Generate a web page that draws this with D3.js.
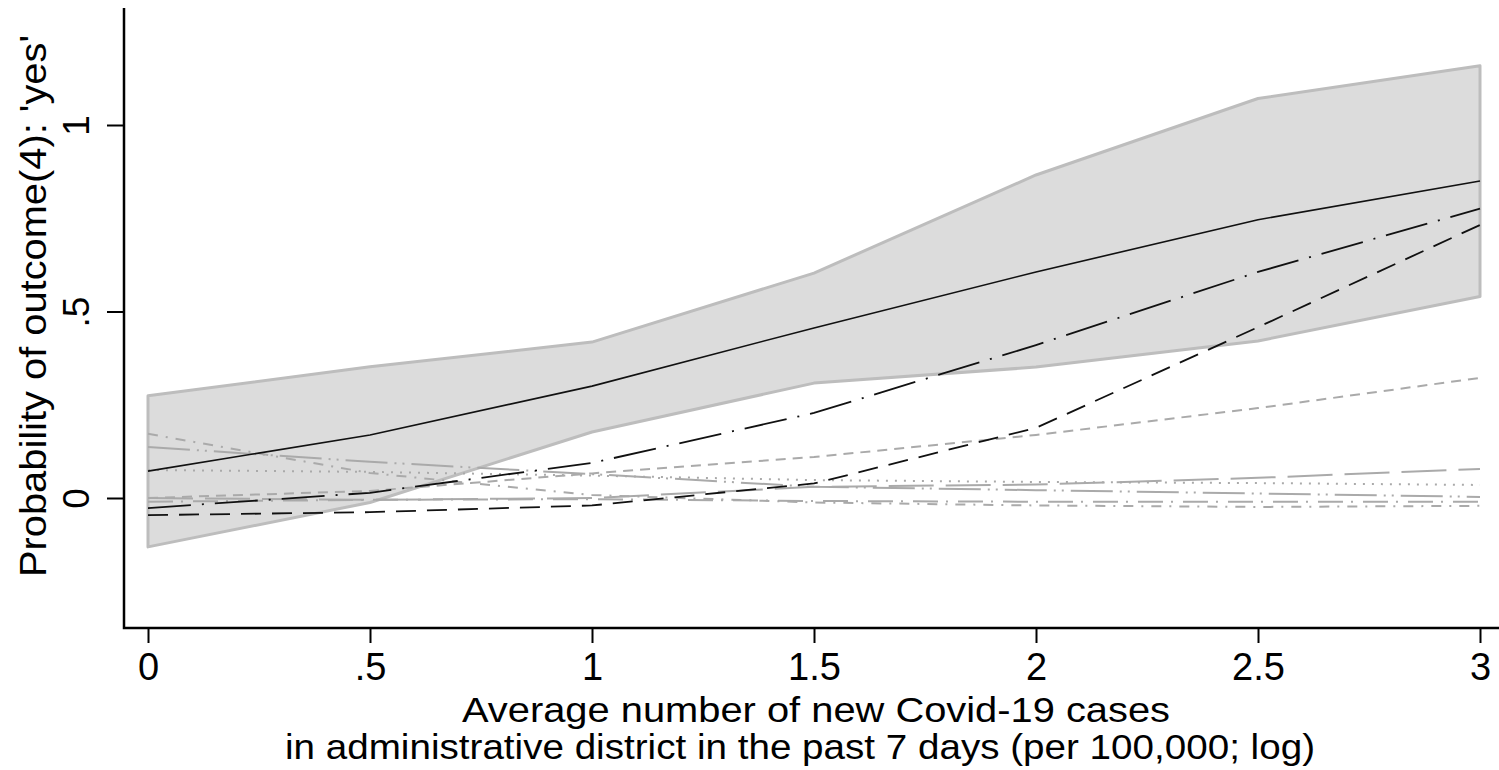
<!DOCTYPE html>
<html>
<head>
<meta charset="utf-8">
<script src="https://cdn.jsdelivr.net/npm/d3@7"></script>
<style>
  body { margin: 0; background: #fff; }
  svg { display: block; font-family: "Liberation Sans", Arial, sans-serif; }
</style>
</head>
<body>
<div id="chart"></div>
<script>
// x = log cases
const xs = [0, 0.5, 1, 1.5, 2, 2.5, 3];
const xTicks = [0, 0.5, 1, 1.5, 2, 2.5, 3];
const yTicks = [0, 0.5, 1];

const ciUpper = [0.274, 0.352, 0.418, 0.603, 0.866, 1.071, 1.159];
const ciLower = [-0.131, -0.012, 0.177, 0.308, 0.351, 0.421, 0.540];

const meanLine = [0.072, 0.169, 0.300, 0.456, 0.606, 0.746, 0.850];
const blackDashDot = [-0.027, 0.014, 0.094, 0.228, 0.410, 0.606, 0.776];
const blackDash = [-0.046, -0.038, -0.020, 0.039, 0.188, 0.458, 0.732];

const grayDash = [0.000, 0.019, 0.066, 0.110, 0.169, 0.241, 0.322];
const grayDot = [0.075, 0.070, 0.060, 0.048, 0.043, 0.040, 0.035];
const grayLongDash = [0.000, -0.005, 0.000, 0.030, 0.036, 0.054, 0.078];
const grayLongDashDotDot = [0.137, 0.097, 0.064, 0.030, 0.021, 0.012, 0.003];
const grayLongDashDot = [-0.010, -0.005, -0.003, -0.008, -0.010, -0.010, -0.010];
const grayDashDot = [0.172, 0.067, 0.008, -0.012, -0.020, -0.024, -0.021];

const xTitle = ["Average number of new Covid-19 cases",
                "in administrative district in the past 7 days (per 100,000; log)"];
const xTitleWidths = [708, 1030];
const xTitleCenters = [816, 800];
const yTitle = "Probability of outcome(4): 'yes'";

const width = 1499, height = 770;
const frame = {left: 124, right: 1499, top: 8, bottom: 628};

const x = d3.scaleLinear().domain([0, 3]).range([148, 1480]);
const y = d3.scaleLinear().domain([0, 1]).range([498, 125]);

const svg = d3.select("#chart").append("svg")
    .attr("width", width)
    .attr("height", height);

// confidence band
const band = xs.map((v, i) => [x(v), y(ciUpper[i])])
    .concat(xs.map((v, i) => [x(v), y(ciLower[i])]).reverse());

svg.append("path")
    .attr("d", "M" + band.join("L") + "Z")
    .attr("fill", "#dcdcdc")
    .attr("stroke", "#bdbdbd")
    .attr("stroke-width", 3)
    .attr("stroke-linejoin", "round");

const line = d3.line()
    .x((d, i) => x(xs[i]))
    .y(d => y(d));

const series = [
    {vals: grayLongDashDot, color: "#aaaaaa", dash: "25,8,2,10", w: 2},
    {vals: grayDashDot, color: "#aaaaaa", dash: "10,8,2,8", w: 2},
    {vals: grayLongDashDotDot, color: "#aaaaaa", dash: "42,7,2,6,2,7", w: 2},
    {vals: grayLongDash, color: "#aaaaaa", dash: "45,12", w: 2},
    {vals: grayDot, color: "#aaaaaa", dash: "2,7", w: 2},
    {vals: grayDash, color: "#aaaaaa", dash: "10,7", w: 2},
    {vals: blackDash, color: "#111", dash: "20,11", w: 1.8},
    {vals: blackDashDot, color: "#111", dash: "43,11,2,11", w: 1.8},
    {vals: meanLine, color: "#111", dash: null, w: 1.6}
];

svg.selectAll(".series")
    .data(series)
    .enter().append("path")
    .attr("class", "series")
    .attr("d", d => line(d.vals))
    .attr("fill", "none")
    .attr("stroke", d => d.color)
    .attr("stroke-width", d => d.w)
    .attr("stroke-dasharray", d => d.dash);

const fmt = v => String(v).replace(/^0\./, ".");

// x axis
const gx = svg.append("g")
    .attr("transform", "translate(0," + frame.bottom + ")")
    .call(d3.axisBottom(x).tickValues(xTicks).tickSize(15).tickFormat(fmt));
gx.select(".domain").remove();
gx.selectAll(".tick line").attr("stroke", "#000").attr("stroke-width", 2);
gx.selectAll(".tick text")
    .attr("y", 52).attr("dy", null)
    .attr("fill", "#000")
    .style("font-size", "38px")
    .style("font-family", "Liberation Sans, Arial, sans-serif");

// y axis
const gy = svg.append("g")
    .attr("transform", "translate(" + frame.left + ",0)")
    .call(d3.axisLeft(y).tickValues(yTicks).tickSize(17).tickFormat(fmt));
gy.select(".domain").remove();
gy.selectAll(".tick line").attr("stroke", "#000").attr("stroke-width", 2);
gy.selectAll(".tick text")
    .attr("x", null).attr("dy", null)
    .attr("transform", "translate(-35,0) rotate(-90)")
    .attr("text-anchor", "middle")
    .attr("fill", "#000")
    .style("font-size", "37px")
    .style("font-family", "Liberation Sans, Arial, sans-serif");

// axis lines
svg.append("path")
    .attr("d", `M${frame.left},${frame.top}V${frame.bottom}H${frame.right}`)
    .attr("fill", "none")
    .attr("stroke", "#000")
    .attr("stroke-width", 2.5);

// titles
svg.selectAll(".xtitle")
    .data(xTitle)
    .enter().append("text")
    .attr("class", "xtitle")
    .attr("x", (d, i) => xTitleCenters[i])
    .attr("y", (d, i) => 722 + i * 37)
    .attr("text-anchor", "middle")
    .attr("textLength", (d, i) => xTitleWidths[i])
    .attr("lengthAdjust", "spacingAndGlyphs")
    .style("font-size", "35px")
    .text(d => d);

svg.append("text")
    .attr("transform", "translate(46,306) rotate(-90)")
    .attr("text-anchor", "middle")
    .attr("textLength", 542)
    .attr("lengthAdjust", "spacingAndGlyphs")
    .style("font-size", "37px")
    .text(yTitle);
</script>
</body>
</html>
